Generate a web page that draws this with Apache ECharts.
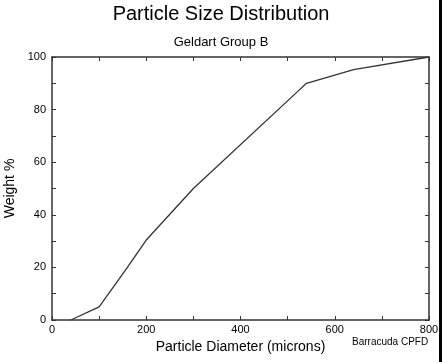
<!DOCTYPE html>
<html><head><meta charset="utf-8">
<script src="https://cdn.jsdelivr.net/npm/echarts@6/dist/echarts.min.js"></script>
<style>html,body{margin:0;padding:0;background:#fff}#c{width:442px;height:362px}</style>
</head><body><div id="c"></div>
<script>
const diameters = [40, 100, 160, 200, 300, 525, 540, 640, 800];
const weights   = [0, 5, 20, 30.4, 50, 87.5, 90, 95.2, 100];
const xTicks = [0, 200, 400, 600, 800];
const yTicks = [0, 20, 40, 60, 80, 100];

const font = '"Liberation Sans", Arial, sans-serif';
const frame = '#333';
const chart = echarts.init(document.getElementById('c'));
const axBase = {
  axisLine: {show: true, onZero: false, lineStyle: {color: frame, width: 1.5}},
  axisTick: {show: true, inside: true, length: 4, lineStyle: {color: frame, width: 1}},
  splitLine: {show: false}
};
chart.setOption({
  animation: false,
  backgroundColor: '#fff',
  title: [
    {text: 'Particle Size Distribution', left: 'center', top: -1,
     textStyle: {fontFamily: font, fontSize: 20, fontWeight: 'normal', color: '#000'}},
    {text: 'Geldart Group B', left: 'center', top: 31,
     textStyle: {fontFamily: font, fontSize: 13, fontWeight: 'normal', color: '#000'}},
    {text: 'Barracuda CPFD', left: 347, top: 332,
     textStyle: {fontFamily: font, fontSize: 10, fontWeight: 'normal', color: '#000'}}
  ],
  grid: {left: 52, right: 13, top: 57, bottom: 42, containLabel: false, outerBoundsMode: 'none'},
  xAxis: [
    Object.assign({}, axBase, {
      type: 'value', min: 0, max: 800, interval: 100,
      name: 'Particle Diameter (microns)', nameLocation: 'middle', nameGap: 19,
      nameTextStyle: {fontFamily: font, fontSize: 14, color: '#000'},
      axisLabel: {fontFamily: font, fontSize: 11, color: '#000', margin: 4,
        formatter: v => xTicks.includes(v) ? String(v) : ''}
    }),
    Object.assign({}, axBase, {
      type: 'value', min: 0, max: 800, interval: 100, position: 'top',
      axisLabel: {show: false}
    })
  ],
  yAxis: [
    Object.assign({}, axBase, {
      type: 'value', min: 0, max: 100, interval: 10,
      name: 'Weight %', nameLocation: 'middle', nameGap: 31, nameRotate: 90,
      nameTextStyle: {fontFamily: font, fontSize: 14, color: '#000'},
      axisLabel: {fontFamily: font, fontSize: 11, color: '#000', margin: 6,
        formatter: v => yTicks.includes(v) ? String(v) : ''}
    }),
    Object.assign({}, axBase, {
      type: 'value', min: 0, max: 100, interval: 10, position: 'right',
      axisLabel: {show: false}
    })
  ],
  series: [{
    type: 'line', xAxisIndex: 0, yAxisIndex: 0,
    data: diameters.map((d, i) => [d, weights[i]]),
    showSymbol: false, symbol: 'none',
    lineStyle: {color: '#333', width: 1.3}
  }],
  graphic: [{
    type: 'rect', shape: {x: 439, y: 0, width: 3, height: 362},
    style: {fill: '#000'}
  }]
});
</script></body></html>
